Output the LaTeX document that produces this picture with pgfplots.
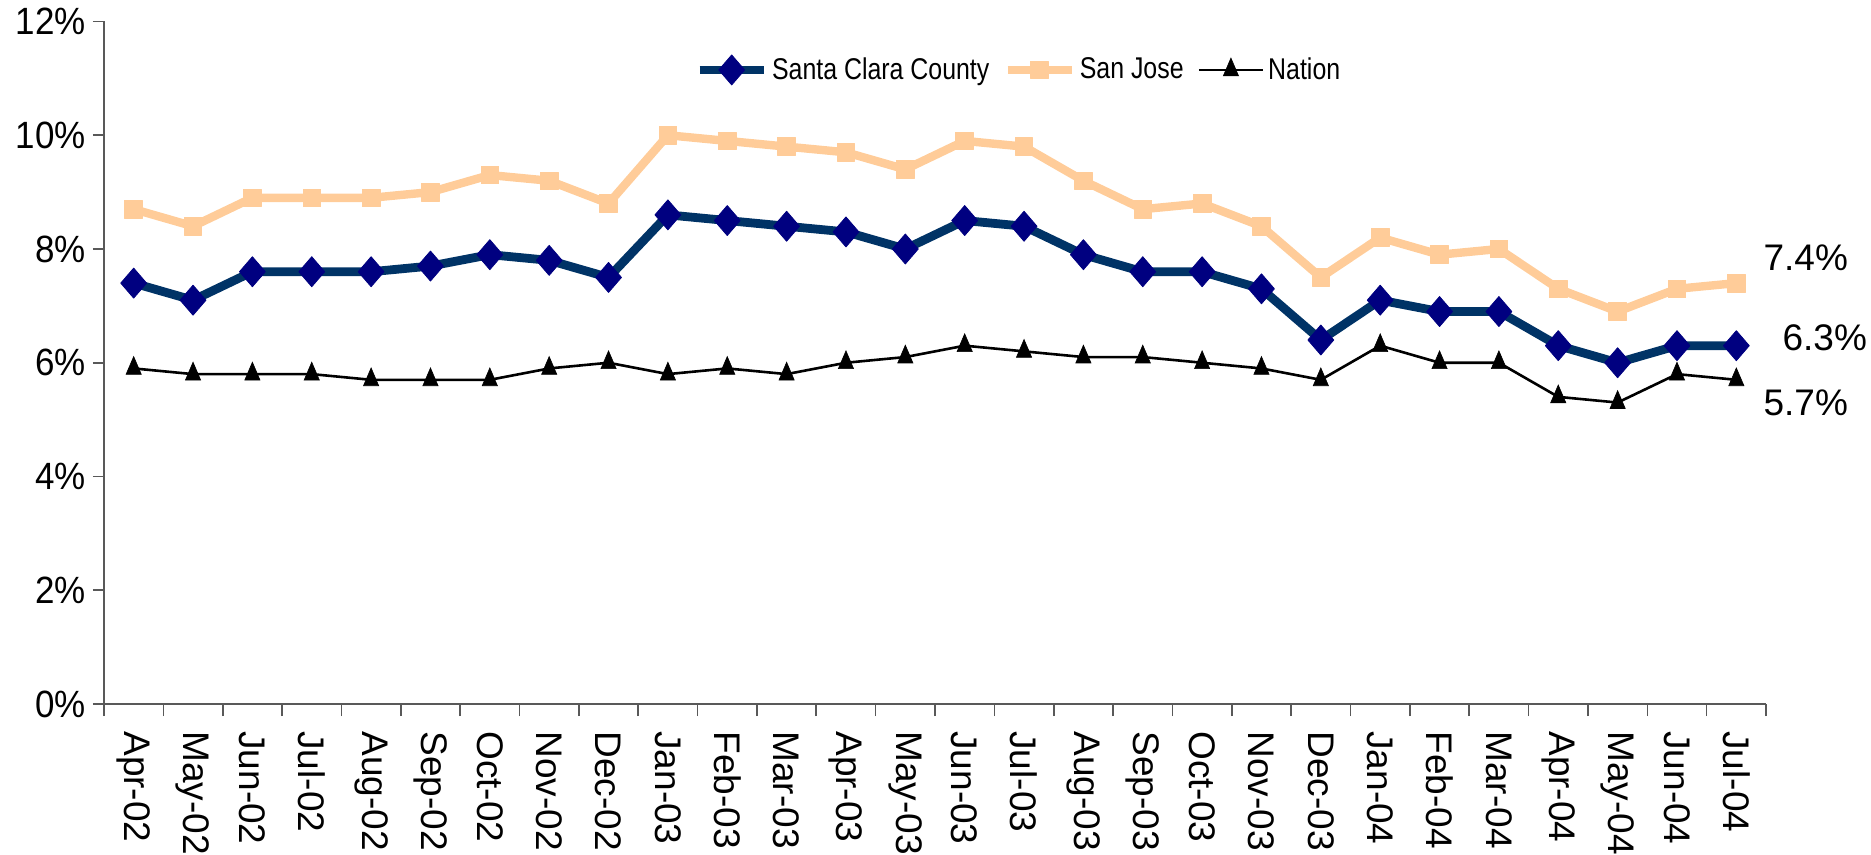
\documentclass[border=0pt]{standalone}
\usepackage{fontspec}
\setmainfont{Liberation Sans}
\newfontfamily\legfont[FakeStretch=0.83]{Liberation Sans}
\newfontfamily\tickfont[FakeStretch=0.92]{Liberation Sans}
\usepackage{pgfplots}
\pgfplotsset{compat=1.18}
\definecolor{scc}{HTML}{003366}
\definecolor{sccm}{HTML}{000080}
\definecolor{sj}{HTML}{FFCC99}
\begin{document}
\begin{tikzpicture}
\useasboundingbox (-52pt,-75.5pt) rectangle (883.5pt,352pt);
\begin{axis}[
  at={(0,0)}, anchor=south west, scale only axis,
  width=831pt, height=341.25pt,
  xmin=-0.5, xmax=27.5, ymin=0, ymax=12,
  axis x line=bottom, axis y line=left,
  axis line style={black!65, -, line width=0.8pt},
  tick align=outside,
  tick style={black!65, line width=0.8pt},
  major tick length=5.5pt, minor tick length=6pt,
  xtick={0,...,27},
  xticklabels={Apr-02,May-02,Jun-02,Jul-02,Aug-02,Sep-02,Oct-02,Nov-02,Dec-02,Jan-03,Feb-03,Mar-03,Apr-03,May-03,Jun-03,Jul-03,Aug-03,Sep-03,Oct-03,Nov-03,Dec-03,Jan-04,Feb-04,Mar-04,Apr-04,May-04,Jun-04,Jul-04},
  major x tick style={draw=none},
  minor xtick={-0.5,0.5,...,27.5},
  xticklabel style={rotate=-90, anchor=west, font=\fontsize{18.5}{18.5}\selectfont, inner xsep=11pt, xshift=-3pt},
  ytick={0,2,...,12},
  yticklabels={0\%,2\%,4\%,6\%,8\%,10\%,12\%},
  yticklabel style={font=\tickfont\fontsize{19}{19}\selectfont},
  clip=false,
  legend columns=-1,
  legend style={at={(0.551,0.929)}, anchor=center, draw=none, fill=none,
    font=\legfont\fontsize{15}{15}\selectfont,
    /tikz/every even column/.append style={column sep=5pt}},
  legend image code/.code={\draw[mark repeat=2,mark phase=2] plot coordinates {(0pt,0pt) (16pt,0pt) (32pt,0pt)};},
]
\addplot[color=scc, line width=4.4pt, line join=round, mark=diamond*, mark size=7.5pt,
  mark options={fill=sccm, draw=sccm, line width=0.4pt, xscale=1.15}] coordinates {
(0,7.4) (1,7.1) (2,7.6) (3,7.6) (4,7.6) (5,7.7) (6,7.9) (7,7.8) (8,7.5) (9,8.6)
(10,8.5) (11,8.4) (12,8.3) (13,8.0) (14,8.5) (15,8.4) (16,7.9) (17,7.6) (18,7.6) (19,7.3)
(20,6.4) (21,7.1) (22,6.9) (23,6.9) (24,6.3) (25,6.0) (26,6.3) (27,6.3)};
\addlegendentry{Santa Clara County}
\addplot[color=sj, line width=4.2pt, line join=round, mark=square*, mark size=4.4pt,
  mark options={fill=sj, draw=sj, line width=0.4pt}] coordinates {
(0,8.7) (1,8.4) (2,8.9) (3,8.9) (4,8.9) (5,9.0) (6,9.3) (7,9.2) (8,8.8) (9,10.0)
(10,9.9) (11,9.8) (12,9.7) (13,9.4) (14,9.9) (15,9.8) (16,9.2) (17,8.7) (18,8.8) (19,8.4)
(20,7.5) (21,8.2) (22,7.9) (23,8.0) (24,7.3) (25,6.9) (26,7.3) (27,7.4)};
\addlegendentry{San Jose}
\addplot[color=black, line width=1.3pt, mark=triangle*, mark size=4.4pt,
  mark options={fill=black, line width=0.3pt, yscale=1.35}] coordinates {
(0,5.9) (1,5.8) (2,5.8) (3,5.8) (4,5.7) (5,5.7) (6,5.7) (7,5.9) (8,6.0) (9,5.8)
(10,5.9) (11,5.8) (12,6.0) (13,6.1) (14,6.3) (15,6.2) (16,6.1) (17,6.1) (18,6.0) (19,5.9)
(20,5.7) (21,6.3) (22,6.0) (23,6.0) (24,5.4) (25,5.3) (26,5.8) (27,5.7)};
\addlegendentry{Nation}
\node[font=\fontsize{18.5}{18.5}\selectfont] at (axis cs:28.17,7.84) {7.4\%};
\node[font=\fontsize{18.5}{18.5}\selectfont] at (axis cs:28.49,6.44) {6.3\%};
\node[font=\fontsize{18.5}{18.5}\selectfont] at (axis cs:28.17,5.29) {5.7\%};
\end{axis}
\end{tikzpicture}
\end{document}
